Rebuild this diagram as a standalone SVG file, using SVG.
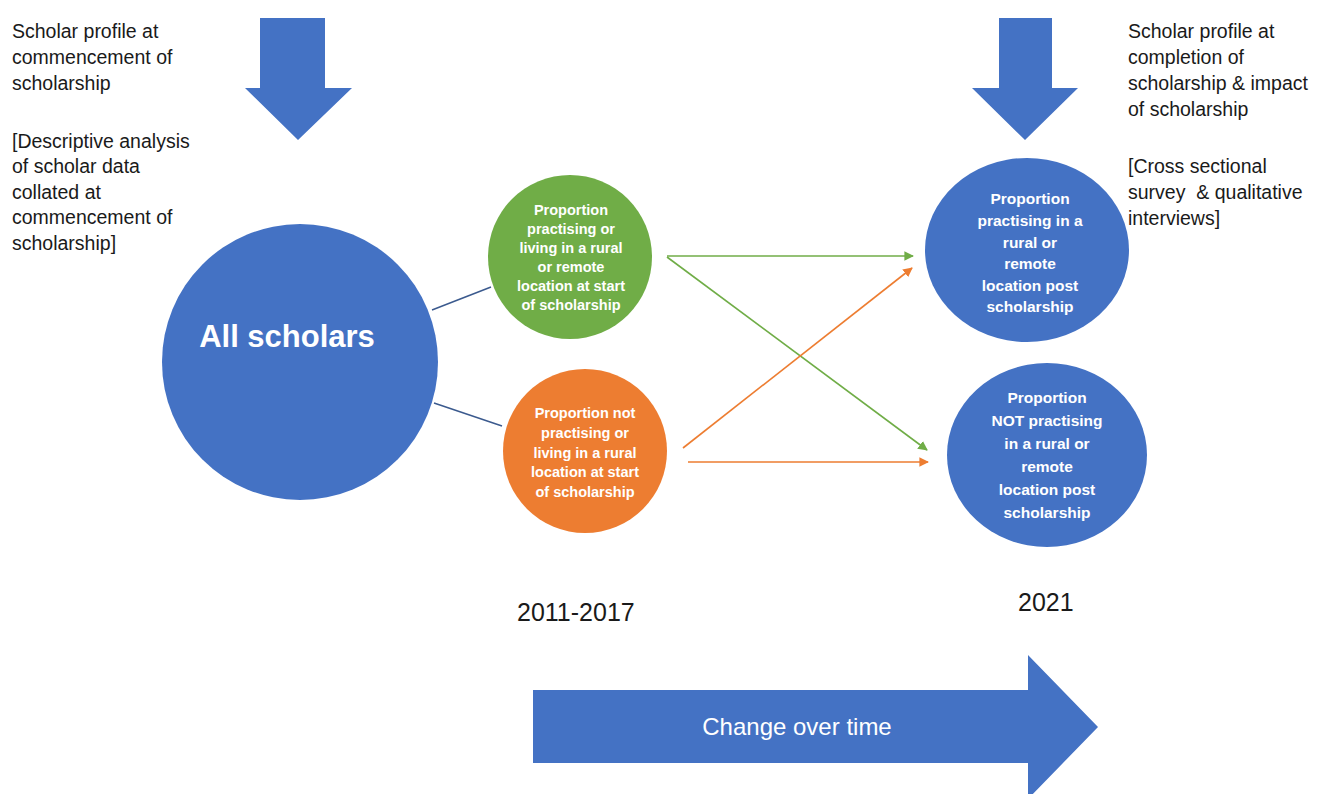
<svg xmlns="http://www.w3.org/2000/svg" width="1323" height="794" viewBox="0 0 1323 794">
  <defs>
    <style>
      .note { font-family: "Liberation Sans", Arial, sans-serif; font-size: 19.5px; fill: #1a1a1a; }
      .year { font-family: "Liberation Sans", Arial, sans-serif; font-size: 25px; fill: #1a1a1a; }
      .blue { fill: #4472C4; }
      .green { fill: #70AD47; }
      .orange { fill: #ED7D31; }
      .lbl { font-family: "Liberation Sans", Arial, sans-serif; font-weight: bold; fill: #ffffff; text-anchor: middle; }
      .small { font-size: 14.5px; }
      .mid { font-size: 15.5px; }
      .link { stroke: #3B5A8E; stroke-width: 1.5; fill: none; }
      .g-arrow { stroke: #70AD47; stroke-width: 1.6; fill: none; marker-end: url(#headGreen); }
      .o-arrow { stroke: #ED7D31; stroke-width: 1.6; fill: none; marker-end: url(#headOrange); }
    </style>
    <marker id="headGreen" viewBox="0 0 10 10" refX="9" refY="5" markerWidth="6" markerHeight="6" orient="auto" markerUnits="strokeWidth">
      <path d="M0,0 L10,5 L0,10 Z" fill="#70AD47"/>
    </marker>
    <marker id="headOrange" viewBox="0 0 10 10" refX="9" refY="5" markerWidth="6" markerHeight="6" orient="auto" markerUnits="strokeWidth">
      <path d="M0,0 L10,5 L0,10 Z" fill="#ED7D31"/>
    </marker>
  </defs>

  <rect width="1323" height="794" fill="#ffffff"/>

  <!-- left notes -->
  <g id="note-start">
    <text class="note" x="12" y="38">Scholar profile at</text>
    <text class="note" x="12" y="64">commencement of</text>
    <text class="note" x="12" y="90">scholarship</text>
    <text class="note" x="12" y="148">[Descriptive analysis</text>
    <text class="note" x="12" y="173">of scholar data</text>
    <text class="note" x="12" y="199">collated at</text>
    <text class="note" x="12" y="224">commencement of</text>
    <text class="note" x="12" y="250">scholarship]</text>
  </g>

  <!-- right notes -->
  <g id="note-end">
    <text class="note" x="1128" y="38">Scholar profile at</text>
    <text class="note" x="1128" y="64">completion of</text>
    <text class="note" x="1128" y="90">scholarship &amp; impact</text>
    <text class="note" x="1128" y="116">of scholarship</text>
    <text class="note" x="1128" y="173">[Cross sectional</text>
    <text class="note" x="1128" y="199" xml:space="preserve">survey  &amp; qualitative</text>
    <text class="note" x="1128" y="225">interviews]</text>
  </g>

  <!-- downward block arrows -->
  <g id="arrow-start">
    <polygon class="blue" points="260,18 325,18 325,88 352,88 298,140 245,88 260,88"/>
  </g>
  <g id="arrow-end">
    <polygon class="blue" points="999,18 1052,18 1052,88 1078,88 1025,140 972,88 999,88"/>
  </g>

  <!-- connectors -->
  <g id="connectors">
    <line class="link" x1="432" y1="310" x2="491" y2="287"/>
    <line class="link" x1="434" y1="403" x2="502" y2="426"/>
    <line class="g-arrow" x1="667" y1="256" x2="913" y2="256"/>
    <line class="g-arrow" x1="667" y1="257" x2="927" y2="450"/>
    <line class="o-arrow" x1="683" y1="448" x2="912" y2="268"/>
    <line class="o-arrow" x1="688" y1="462" x2="928" y2="462"/>
  </g>

  <!-- nodes -->
  <g id="all-scholars">
    <circle class="blue" cx="300" cy="362" r="138"/>
    <text class="lbl" x="287" y="347" font-size="31">All scholars</text>
  </g>

  <g id="rural-start">
    <circle class="green" cx="570" cy="257" r="82"/>
    <text class="lbl small" x="571" y="215">Proportion</text>
    <text class="lbl small" x="571" y="234">practising or</text>
    <text class="lbl small" x="571" y="253">living in a rural</text>
    <text class="lbl small" x="571" y="272">or remote</text>
    <text class="lbl small" x="571" y="291">location at start</text>
    <text class="lbl small" x="571" y="310">of scholarship</text>
  </g>

  <g id="nonrural-start">
    <circle class="orange" cx="585" cy="451" r="82"/>
    <text class="lbl small" x="585" y="418">Proportion not</text>
    <text class="lbl small" x="585" y="438">practising or</text>
    <text class="lbl small" x="585" y="458">living in a rural</text>
    <text class="lbl small" x="585" y="477">location at start</text>
    <text class="lbl small" x="585" y="497">of scholarship</text>
  </g>

  <g id="rural-post">
    <ellipse class="blue" cx="1027" cy="250" rx="102" ry="92"/>
    <text class="lbl mid" x="1030" y="204">Proportion</text>
    <text class="lbl mid" x="1030" y="226">practising in a</text>
    <text class="lbl mid" x="1030" y="248">rural or</text>
    <text class="lbl mid" x="1030" y="269">remote</text>
    <text class="lbl mid" x="1030" y="291">location post</text>
    <text class="lbl mid" x="1030" y="312">scholarship</text>
  </g>

  <g id="nonrural-post">
    <ellipse class="blue" cx="1047" cy="455" rx="100" ry="92"/>
    <text class="lbl mid" x="1047" y="403">Proportion</text>
    <text class="lbl mid" x="1047" y="426">NOT practising</text>
    <text class="lbl mid" x="1047" y="449">in a rural or</text>
    <text class="lbl mid" x="1047" y="472">remote</text>
    <text class="lbl mid" x="1047" y="495">location post</text>
    <text class="lbl mid" x="1047" y="518">scholarship</text>
  </g>

  <!-- time labels -->
  <g id="years">
    <text class="year" x="517" y="621">2011-2017</text>
    <text class="year" x="1018" y="611">2021</text>
  </g>

  <!-- timeline arrow -->
  <g id="timeline">
    <polygon class="blue" points="533,690 1028,690 1028,655 1098,727 1028,799 1028,763 533,763"/>
    <text x="797" y="735" font-family="Liberation Sans, Arial, sans-serif" font-size="24" fill="#ffffff" text-anchor="middle">Change over time</text>
  </g>
</svg>
